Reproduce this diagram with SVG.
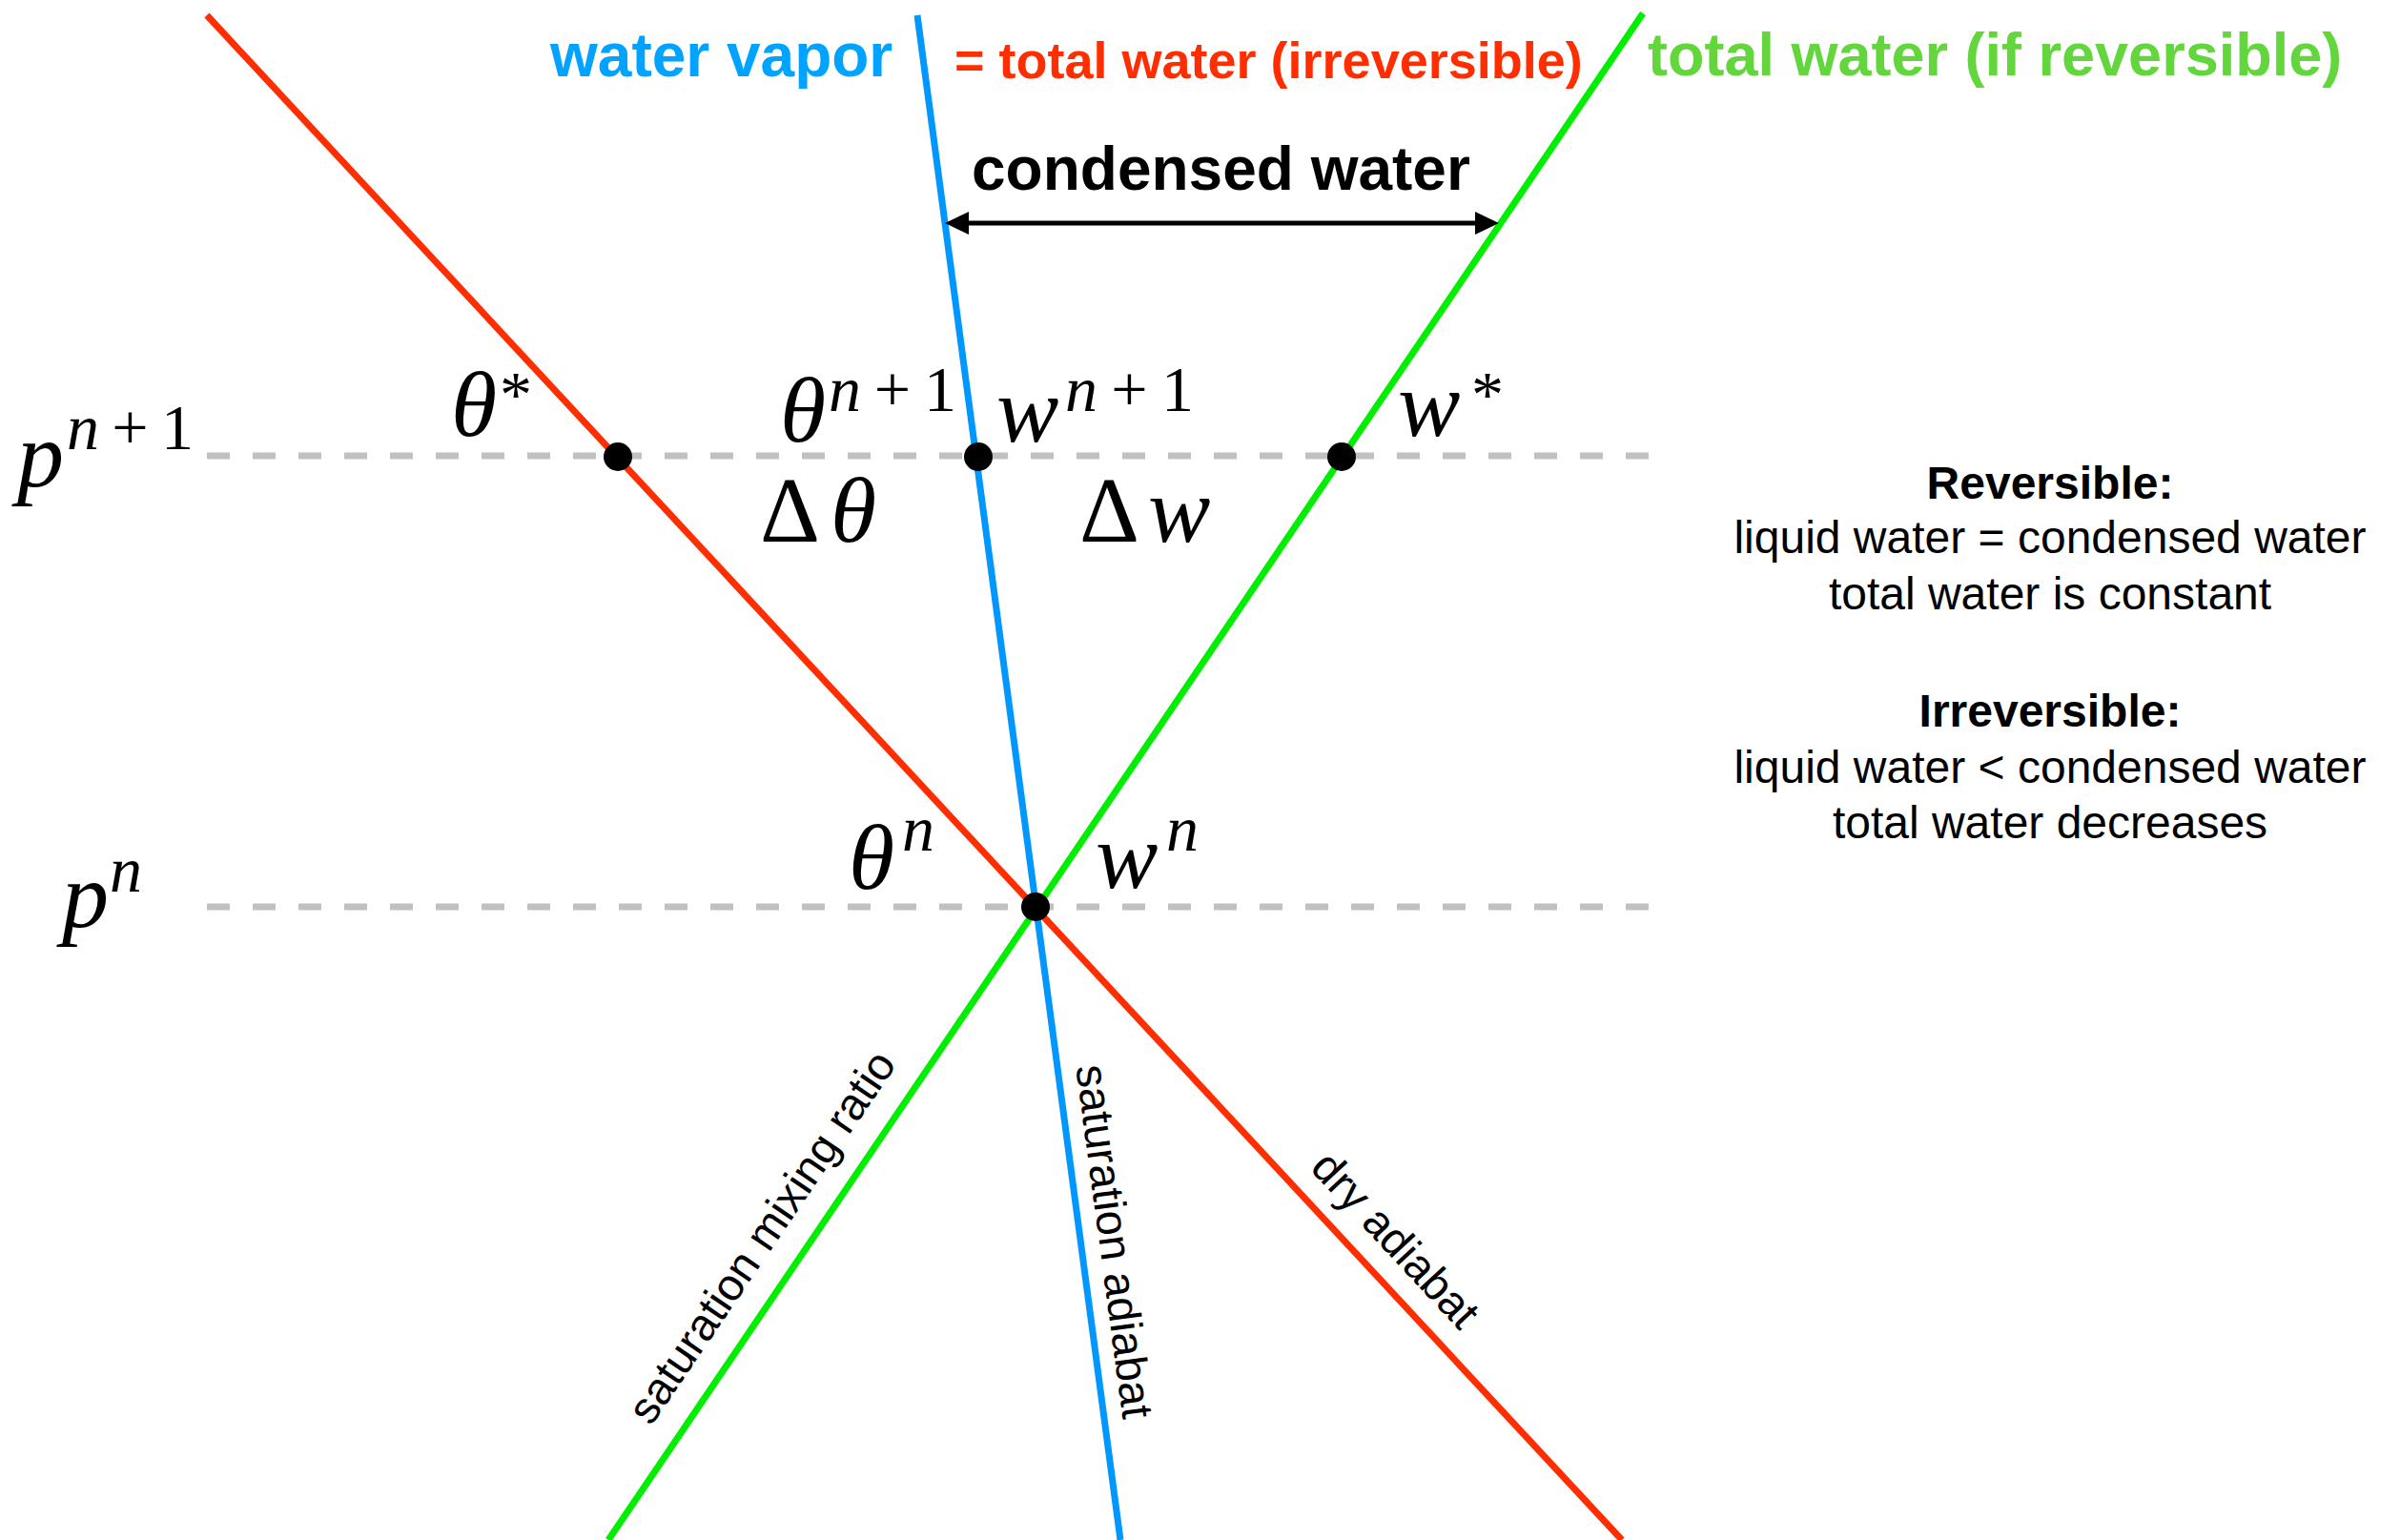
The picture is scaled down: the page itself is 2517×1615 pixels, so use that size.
<svg xmlns="http://www.w3.org/2000/svg" width="2517" height="1615" viewBox="0 0 2517 1615">
  <style>
    .hdr { font-family: "Liberation Sans", Arial, sans-serif; font-weight: bold; }
    .body { font-family: "Liberation Sans", Arial, sans-serif; font-size: 48px; fill: #000; text-anchor: middle; }
    .bold { font-weight: bold; }
    .lbl { font-family: "Liberation Sans", Arial, sans-serif; font-size: 47px; fill: #000; text-anchor: middle; }
    .m { font-family: "Liberation Serif", "Times New Roman", serif; font-style: italic; font-size: 98px; fill: #000; }
    .s { font-family: "Liberation Serif", "Times New Roman", serif; font-style: italic; font-size: 68px; fill: #000; }
    .up { font-style: normal; }
    .dash { stroke: #c0c0c0; stroke-width: 7; stroke-dasharray: 24 24; fill: none; }
    .ln { stroke-width: 7; fill: none; }
    .dot { fill: #000; }
  </style>
  <defs>
    <marker id="ah" markerWidth="26" markerHeight="26" refX="11" refY="13" orient="auto-start-reverse" markerUnits="userSpaceOnUse">
      <path d="M0,1 L25,13 L0,25 Z" fill="#000"/>
    </marker>
  </defs>
  <rect width="2517" height="1615" fill="#fff"/>

  <g id="levels">
    <line class="dash" x1="217" y1="478" x2="1730" y2="478"/>
    <line class="dash" x1="217" y1="951" x2="1730" y2="951"/>
  </g>

  <g id="connectors">
    <line id="dry-adiabat" class="ln" stroke="#ff2e00" x1="217" y1="16" x2="1701" y2="1615"/>
    <line id="saturation-adiabat" class="ln" stroke="#0098ff" x1="962" y1="16" x2="1175" y2="1615"/>
    <line id="saturation-mixing-ratio" class="ln" stroke="#00ee00" x1="1723" y1="14" x2="638" y2="1615"/>
    <line id="condensed-arrow" stroke="#000" stroke-width="5" x1="1005" y1="234" x2="1558" y2="234" marker-start="url(#ah)" marker-end="url(#ah)"/>
  </g>

  <g id="node-theta-star"><circle class="dot" cx="648" cy="479" r="15"/></g>
  <g id="node-n1"><circle class="dot" cx="1026" cy="479" r="15"/></g>
  <g id="node-w-star"><circle class="dot" cx="1407" cy="479" r="15"/></g>
  <g id="node-n"><circle class="dot" cx="1086" cy="951" r="15"/></g>

  <g id="headers">
    <text class="hdr" x="577" y="80" font-size="64" fill="#00a3ff">water vapor</text>
    <text class="hdr" x="1001" y="82" font-size="54" fill="#ff2e00">= total water (irreversible)</text>
    <text class="hdr" x="1728" y="79" font-size="63" fill="#63d53d">total water (if reversible)</text>
    <text class="hdr" x="1019" y="199" font-size="64" fill="#000">condensed water</text>
  </g>

  <g id="math-labels">
    <text class="m" x="18" y="510">p</text>
    <text class="s" x="70" y="471" textLength="133" lengthAdjust="spacing">n<tspan class="up">+1</tspan></text>

    <text class="m" x="65" y="972">p</text>
    <text class="s" x="115" y="935">n</text>

    <text class="m" x="473" y="457">θ</text>
    <text class="s" x="524" y="436"><tspan class="up">*</tspan></text>

    <text class="m" x="818" y="463">θ</text>
    <text class="s" x="869" y="431" textLength="134" lengthAdjust="spacing">n<tspan class="up">+1</tspan></text>

    <text class="m" x="1045" y="463">w</text>
    <text class="s" x="1117" y="431" textLength="135" lengthAdjust="spacing">n<tspan class="up">+1</tspan></text>

    <text class="m" x="1466" y="457">w</text>
    <text class="s" x="1543" y="436"><tspan class="up">*</tspan></text>

    <text class="m" x="797" y="568"><tspan class="up">Δ</tspan></text>
    <text class="m" x="871" y="568">θ</text>

    <text class="m" x="1132" y="568"><tspan class="up">Δ</tspan></text>
    <text class="m" x="1204" y="568">w</text>

    <text class="m" x="890" y="932">θ</text>
    <text class="s" x="946" y="892">n</text>

    <text class="m" x="1149" y="931">w</text>
    <text class="s" x="1223" y="892">n</text>
  </g>

  <g id="line-labels">
    <text class="lbl" transform="translate(812,1306) rotate(-55.8)">saturation mixing ratio</text>
    <text class="lbl" transform="translate(1153,1304) rotate(82.4)">saturation adiabat</text>
    <text class="lbl" transform="translate(1452,1311) rotate(47.1)">dry adiabat</text>
  </g>

  <g id="legend">
    <text class="body bold" x="2150" y="523">Reversible:</text>
    <text class="body" x="2150" y="580">liquid water = condensed water</text>
    <text class="body" x="2150" y="639">total water is constant</text>
    <text class="body bold" x="2150" y="762">Irreversible:</text>
    <text class="body" x="2150" y="821">liquid water &lt; condensed water</text>
    <text class="body" x="2150" y="879">total water decreases</text>
  </g>
</svg>
